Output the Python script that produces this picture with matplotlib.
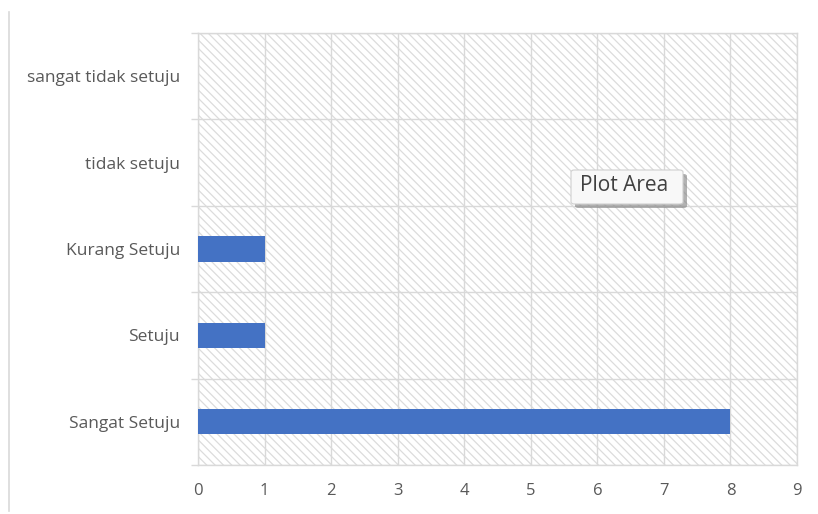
import matplotlib
matplotlib.use("Agg")
import matplotlib.pyplot as plt
from matplotlib.patches import Rectangle, FancyBboxPatch
from matplotlib.lines import Line2D
import numpy as np

categories = ["Sangat Setuju", "Setuju", "Kurang Setuju", "tidak setuju", "sangat tidak setuju"]
values = [8, 1, 1, 0, 0]
xticks = [0, 1, 2, 3, 4, 5, 6, 7, 8, 9]

plt.rcParams['font.family'] = ['Open Sans', 'DejaVu Sans']
plt.rcParams['hatch.linewidth'] = 0.9
plt.rcParams['hatch.color'] = '#dcdcdc'

grid_c = '#d9d9d9'
text_c = '#595959'

fig = plt.figure(figsize=(8.18, 5.14), dpi=100)
fig.patch.set_facecolor('white')
ax = fig.add_axes([198/818, 1-465/514, (797-198)/818, (465-33)/514])

y = np.arange(len(categories))
ax.add_patch(Rectangle((0, 0), 1, 1, transform=ax.transAxes, facecolor='white',
                       edgecolor='#dcdcdc', hatch='\\\\\\\\', lw=0, zorder=0))
ax.barh(y, values, height=0.29, color='#4472C4', zorder=3)

ax.set_xlim(0, 9)
ax.set_ylim(-0.5, len(categories) - 0.5)
ax.set_xticks(xticks)
ax.set_xticklabels([str(t) for t in xticks])
ax.set_yticks(np.arange(-0.5, len(categories), 1.0))
ax.set_yticklabels([])
ax.set_yticks(y, minor=True)
ax.set_yticklabels(categories, minor=True)

ax.tick_params(axis='x', length=0, pad=13, labelsize=12, labelcolor=text_c)
ax.tick_params(axis='y', which='major', length=5, color=grid_c, width=1, direction='out')
ax.tick_params(axis='y', which='minor', length=0, pad=13, labelsize=12.5, labelcolor=text_c)

ax.grid(True, which='major', axis='both', color=grid_c, lw=1, zorder=1)
ax.set_axisbelow(True)
for s in ax.spines.values():
    s.set_color(grid_c)
    s.set_linewidth(1)

# left border line of chart frame
fig.add_artist(Line2D([9/818, 9/818], [1-12/514, 1-511/514], color='#d9d9d9', lw=1.2))

# "Plot Area" tooltip
x0, y0, w, h = 571/818, 1-204/514, 112/818, 34/514
shadow = FancyBboxPatch((x0 + 4/818, y0 - 4/514), w, h, boxstyle='round,pad=0,rounding_size=0.004',
                        transform=fig.transFigure, facecolor='#7f7f7f', edgecolor='none', alpha=0.6, zorder=10)
box = FancyBboxPatch((x0, y0), w, h, boxstyle='round,pad=0,rounding_size=0.004',
                     transform=fig.transFigure, facecolor='#f8f8f8', edgecolor='#cfcfcf', lw=0.8, zorder=11)
fig.add_artist(shadow)
fig.add_artist(box)
fig.text(x0 + w/2 - 3/818, y0 + h/2 + 1/514, "Plot Area", ha='center', va='center', fontsize=15,
         color='#404040', zorder=12)

fig.savefig("out.png", dpi=100)
